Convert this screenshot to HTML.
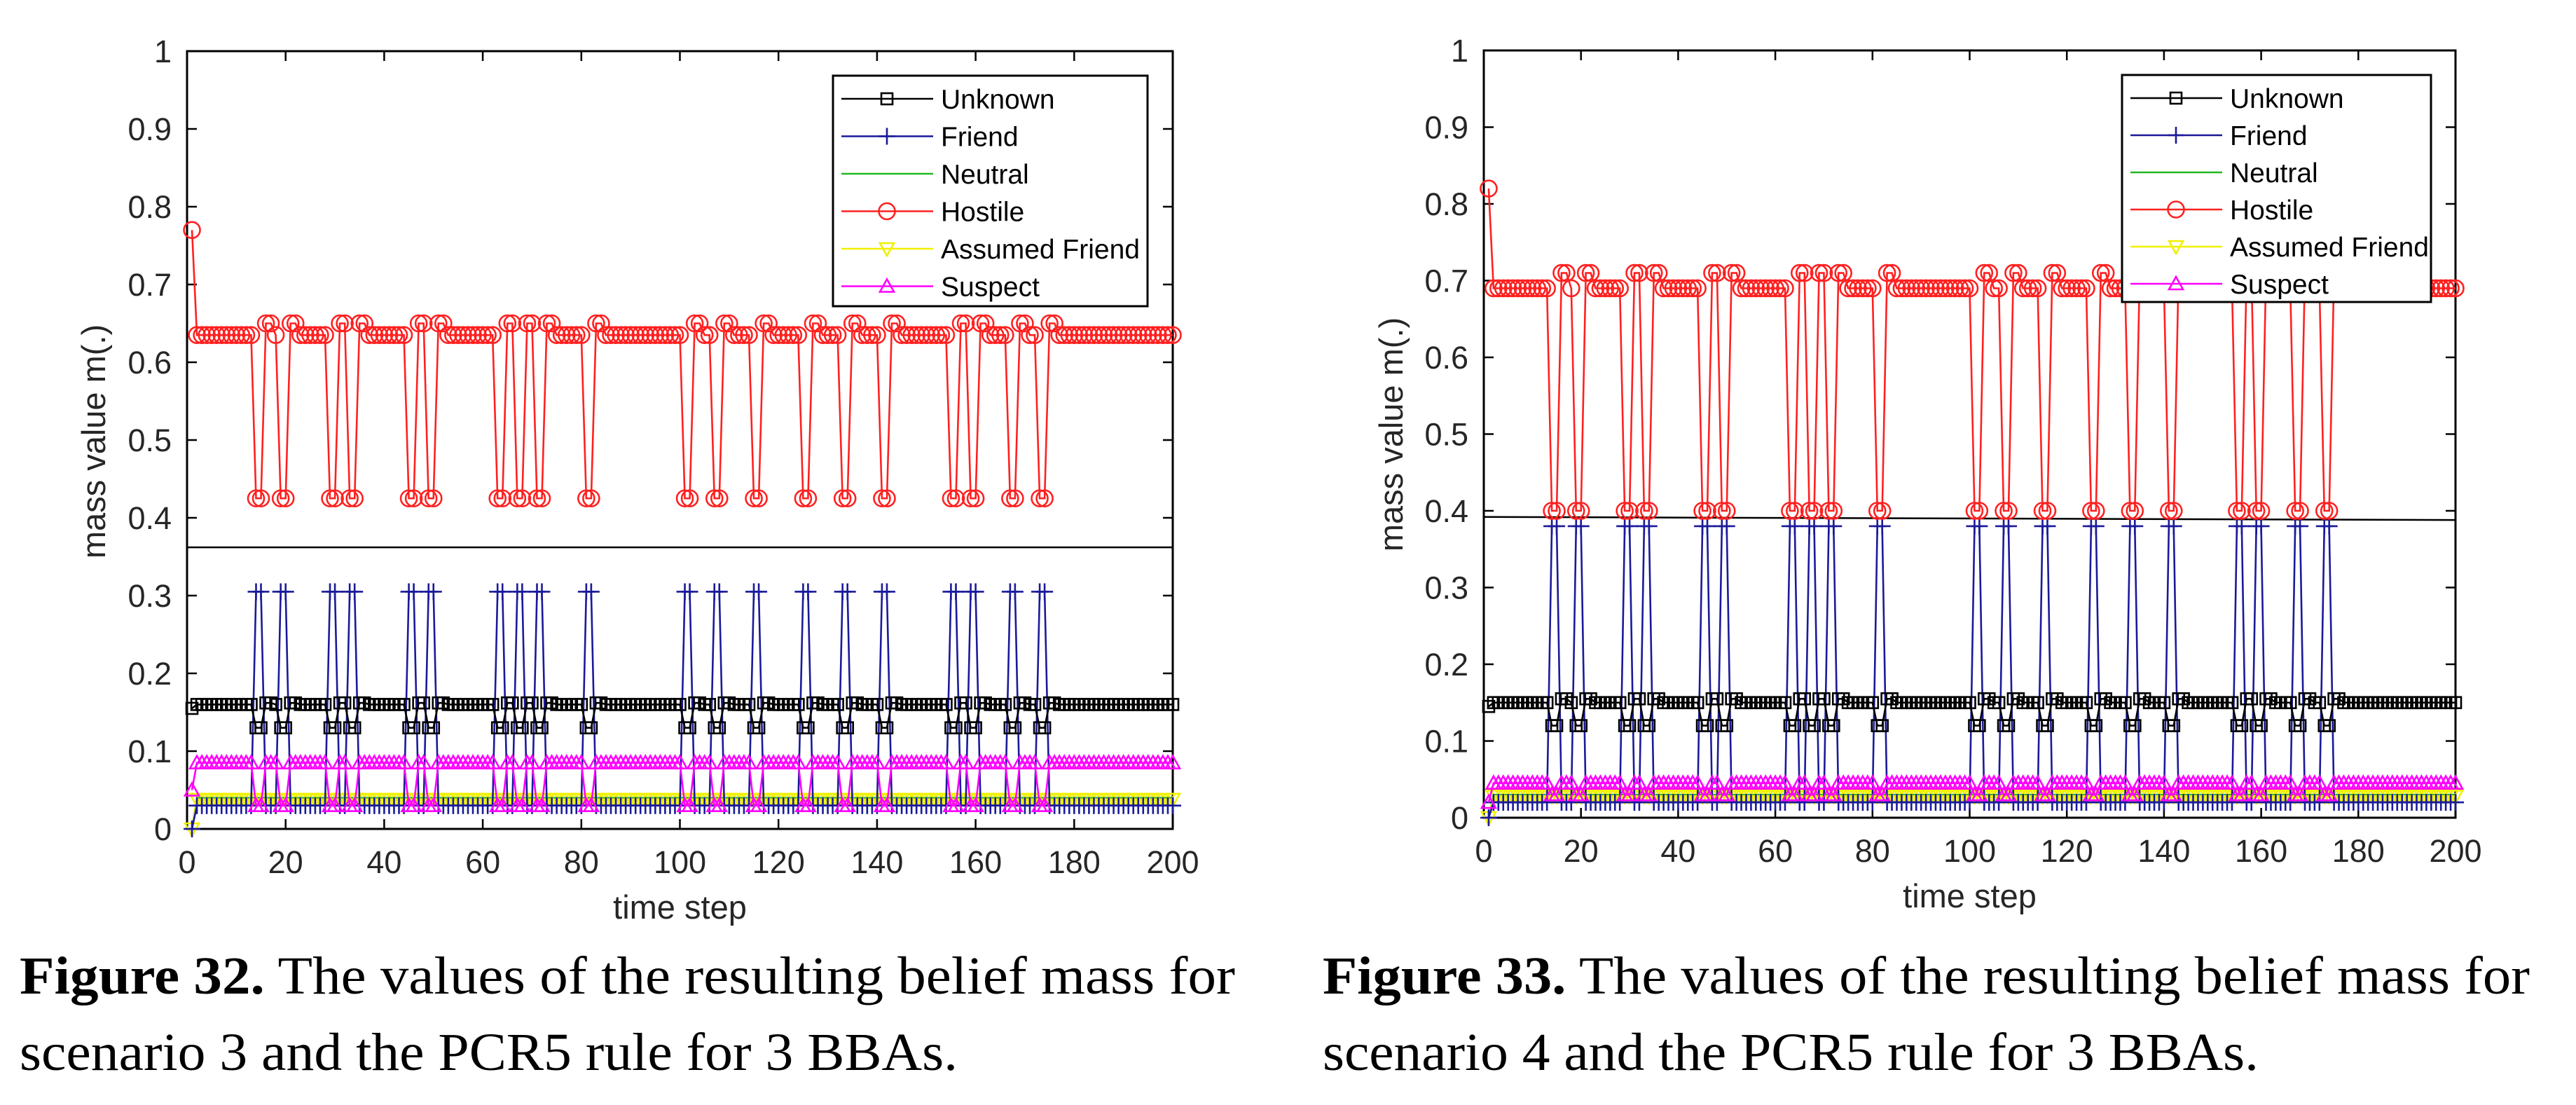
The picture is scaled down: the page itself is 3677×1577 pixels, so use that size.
<!DOCTYPE html>
<html><head><meta charset="utf-8"><style>
html,body{margin:0;padding:0;background:#fff;}
svg{display:block;}
text{font-family:"Liberation Sans",sans-serif;}
.cap{font-family:"Liberation Serif",serif;font-size:76px;fill:#000;}
</style></head><body>
<svg id="root" width="3677" height="1577" viewBox="0 0 3677 1577" xmlns="http://www.w3.org/2000/svg">
<text class="cap" x="28" y="1418" textLength="1735" lengthAdjust="spacingAndGlyphs"><tspan font-weight="bold">Figure 32.</tspan> The values of the resulting belief mass for</text>
<text class="cap" x="28" y="1527" textLength="1339" lengthAdjust="spacingAndGlyphs">scenario 3 and the PCR5 rule for 3 BBAs.</text>
<text class="cap" x="1888" y="1418" textLength="1723" lengthAdjust="spacingAndGlyphs"><tspan font-weight="bold">Figure 33.</tspan> The values of the resulting belief mass for</text>
<text class="cap" x="1888" y="1527" textLength="1336" lengthAdjust="spacingAndGlyphs">scenario 4 and the PCR5 rule for 3 BBAs.</text>
</svg>
<script>
// ---- shared data ----
const xTicks = [0,20,40,60,80,100,120,140,160,180,200];
const yTicks = [0,0.1,0.2,0.3,0.4,0.5,0.6,0.7,0.8,0.9,1];
const yTickLabels = ["0","0.1","0.2","0.3","0.4","0.5","0.6","0.7","0.8","0.9","1"];
const seriesNames = ["Unknown","Friend","Neutral","Hostile","Assumed Friend","Suspect"];
// time steps at which the two-step dips start (same events in both scenarios)
const dipStarts = [14,19,29,33,45,49,63,67,71,81,101,107,115,125,133,141,155,159,167,173];
const nSteps = 200;
// ---- chart 1 (scenario 3) levels: [first value, baseline, dip value, peak value] ----
const c1Unknown = [0.155,0.16,0.13,0.162];
const c1Friend  = [0.0,0.03,0.305,0.03];
const c1Neutral = [0.0,0.04,0.04,0.04];
const c1Hostile = [0.77,0.635,0.425,0.65];
const c1Assumed = [0.0,0.038,0.038,0.038];
const c1Suspect = [0.05,0.085,0.03,0.085];
const c1RefLine = [0.362,0.362];
// ---- chart 2 (scenario 4) ----
const c2Unknown = [0.145,0.15,0.12,0.155];
const c2Friend  = [0.0,0.02,0.38,0.02];
const c2Neutral = [0.0,0.03,0.03,0.03];
const c2Hostile = [0.82,0.69,0.40,0.71];
const c2Assumed = [0.0,0.028,0.028,0.028];
const c2Suspect = [0.02,0.045,0.03,0.045];
const c2RefLine = [0.392,0.388];

const NS="http://www.w3.org/2000/svg";
const root=document.getElementById('root');
function mk(tag,attrs,parent){const e=document.createElementNS(NS,tag);for(const k in attrs)e.setAttribute(k,attrs[k]);(parent||root).appendChild(e);return e;}

function buildSeries(lv){
  const dips=new Set(), peaks=new Set();
  dipStarts.forEach(d=>{dips.add(d);dips.add(d+1);});
  dipStarts.forEach(d=>{if(!dips.has(d+2))peaks.add(d+2);if(!dips.has(d+3))peaks.add(d+3);});
  const out=[];
  for(let t=1;t<=nSteps;t++){
    let v=lv[1];
    if(t===1)v=lv[0];
    else if(dips.has(t))v=lv[2];
    else if(peaks.has(t))v=lv[3];
    out.push([t,v]);
  }
  return out;
}

function marker(kind,x,y,color,g){
  let e;
  const sw=2.6;
  if(kind==='square'){e=mk('rect',{x:x-8,y:y-8,width:16,height:16,fill:'none',stroke:color,'stroke-width':sw},g);}
  else if(kind==='plus'){e=mk('path',{d:`M${x-12} ${y}H${x+12}M${x} ${y-12}V${y+12}`,stroke:color,'stroke-width':sw,fill:'none'},g);}
  else if(kind==='circle'){e=mk('circle',{cx:x,cy:y,r:11.5,fill:'none',stroke:color,'stroke-width':sw},g);}
  else if(kind==='tdown'){e=mk('path',{d:`M${x-10} ${y-8}L${x+10} ${y-8}L${x} ${y+10}Z`,fill:'none',stroke:color,'stroke-width':sw},g);}
  else if(kind==='tup'){e=mk('path',{d:`M${x-10} ${y+8}L${x+10} ${y+8}L${x} ${y-10}Z`,fill:'none',stroke:color,'stroke-width':sw},g);}
  else return null;
  return e;
}

function drawChart(c){
  const X=t=>c.x0+(c.x1-c.x0)*t/200;
  const Y=v=>c.y0+(c.y1-c.y0)*v;
  const g=mk('g',{});
  
  
  const box=mk('rect',{x:c.x0,y:c.y1,width:c.x1-c.x0,height:c.y0-c.y1,fill:'#fff',stroke:'#000','stroke-width':3},g);
  
  
  xTicks.forEach(t=>{
    const tk=mk('path',{d:`M${X(t)} ${c.y0}v-14M${X(t)} ${c.y1}v14`,stroke:'#000','stroke-width':2.5},g);
    
    
    const lb=mk('text',{x:X(t),y:c.y0+63,'text-anchor':'middle','font-size':45,fill:'#262626'},g);
    lb.textContent=String(t);
    
    
  });
  yTicks.forEach((v,i)=>{
    const tk=mk('path',{d:`M${c.x0} ${Y(v)}h14M${c.x1} ${Y(v)}h-14`,stroke:'#000','stroke-width':2.5},g);
    
    
    const lb=mk('text',{x:c.x0-22,y:Y(v)+16,'text-anchor':'end','font-size':45,fill:'#262626'},g);
    lb.textContent=yTickLabels[i];
    
    
  });
  const xl=mk('text',{x:(c.x0+c.x1)/2,y:c.y0+128,'text-anchor':'middle','font-size':47,fill:'#262626'},g);
  xl.textContent='time step';
  
  
  const yl=mk('text',{x:0,y:0,'text-anchor':'middle','font-size':47,fill:'#262626',transform:`translate(${c.ylx},${c.yly}) rotate(-90)`},g);
  yl.textContent='mass value m(.)';
  
  
  const rl=mk('line',{x1:c.x0,y1:Y(c.ref[0]),x2:c.x1,y2:Y(c.ref[1]),stroke:'#000','stroke-width':2.5},g);
  
  
  const order=[2,4,1,0,5,3];
  order.forEach(i=>{
    const s=c.series[i];
    const pts=buildSeries(s.levels);
    const sg=mk('g',{},g);
    
    
    const pl=mk('polyline',{points:pts.map(p=>X(p[0])+','+Y(p[1])).join(' '),fill:'none',stroke:s.color,'stroke-width':2.6},sg);
    
    
    pts.forEach(p=>{
      const m=marker(s.marker,X(p[0]),Y(p[1]),s.color,sg);
      if(m){
        
        
      }
    });
  });
  const lg=mk('g',{},g);
  
  
  const lr=mk('rect',{x:c.lgx,y:c.lgy,width:c.lgw,height:c.lgh,fill:'#fff',stroke:'#000','stroke-width':3},lg);
  
  
  c.series.forEach((s,i)=>{
    const yy=c.lgy+33+i*c.lgStep;
    const eg=mk('g',{},lg);
    
    
    mk('line',{x1:c.lgx+12,y1:yy,x2:c.lgx+143,y2:yy,stroke:s.color,'stroke-width':2.6},eg);
    marker(s.marker,c.lgx+77,yy,s.color,eg);
    const tx=mk('text',{x:c.lgx+154,y:yy+14,'font-size':39,fill:'#000'},eg);
    tx.textContent=s.name;
  });
}

function mkSeries(arrs){
  const cols=['#000000','#1a1a9a','#22b822','#ff2020','#f0f000','#ff00ff'];
  const mks=['square','plus','none','circle','tdown','tup'];
  const keys=['unknown','friend','neutral','hostile','assumed-friend','suspect'];
  return arrs.map((a,i)=>({levels:a,color:cols[i],marker:mks[i],key:keys[i],name:seriesNames[i]}));
}

drawChart({id:'chart-scenario-3',x0:267,x1:1674,y0:1183,y1:73,ylx:150,yly:630,
  lgx:1189,lgy:108,lgw:449,lgh:329,lgStep:53.5,ref:c1RefLine,
  series:mkSeries([c1Unknown,c1Friend,c1Neutral,c1Hostile,c1Assumed,c1Suspect])});
drawChart({id:'chart-scenario-4',x0:2118,x1:3505,y0:1167,y1:72,ylx:2002,yly:620,
  lgx:3029,lgy:107,lgw:441,lgh:324,lgStep:53,ref:c2RefLine,
  series:mkSeries([c2Unknown,c2Friend,c2Neutral,c2Hostile,c2Assumed,c2Suspect])});
</script>
</body></html>
